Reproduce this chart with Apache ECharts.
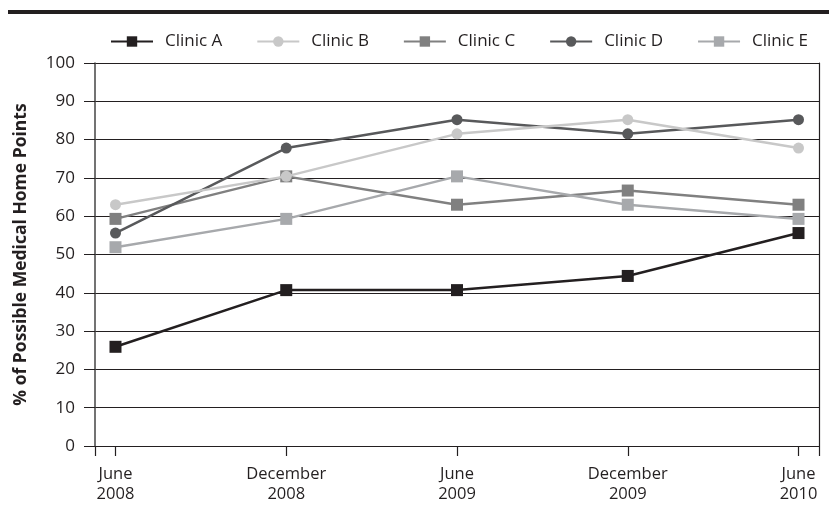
<!DOCTYPE html>
<html><head><meta charset="utf-8">
<script src="https://cdn.jsdelivr.net/npm/echarts@6/dist/echarts.min.js"></script>
<style>html,body{margin:0;padding:0;background:#fff}#c{width:829px;height:516px}</style>
</head><body><div id="c"></div>
<script>
const categories = ['June\n2008', 'December\n2008', 'June\n2009', 'December\n2009', 'June\n2010'];
const clinicA = [25.9, 40.7, 40.7, 44.4, 55.6];
const clinicB = [63.0, 70.4, 81.5, 85.2, 77.8];
const clinicC = [59.3, 70.4, 63.0, 66.7, 63.0];
const clinicD = [55.6, 77.8, 85.2, 81.5, 85.2];
const clinicE = [51.9, 59.3, 70.4, 63.0, 59.3];
const yTicks = [0, 10, 20, 30, 40, 50, 60, 70, 80, 90, 100];

const FONT = '"Open Sans", sans-serif';
const chart = echarts.init(document.getElementById('c'), null, {renderer: 'canvas'});

function mk(name, data, color, symbol, size, z) {
  return {
    name, type: 'line', data: data.map((v, i) => [i, v]),
    symbol, symbolSize: size, z: z,
    lineStyle: {color, width: 2.5},
    itemStyle: {color, borderWidth: 0},
    emphasis: {disabled: true}, animation: false
  };
}

chart.setOption({
  animation: false,
  graphic: [{type: 'rect', shape: {x: 8, y: 10, width: 821, height: 4}, style: {fill: '#231f20'}}],
  legend: {
    left: 110, top: 33, padding: 0, itemWidth: 42, itemHeight: 13, itemGap: 34,
    textStyle: {fontFamily: FONT, fontSize: 17, color: '#231f20', padding: [0, 0, 0, 7]},
    data: ['Clinic A', 'Clinic B', 'Clinic C', 'Clinic D', 'Clinic E']
  },
  grid: {left: 95, right: 10, top: 63, bottom: 70, containLabel: false},
  xAxis: {
    type: 'value', min: -0.12, max: 4.12,
    splitLine: {show: false},
    axisLine: {show: true, onZero: false, lineStyle: {color: '#231f20', width: 1}},
    axisTick: {show: true, length: 10, lineStyle: {color: '#231f20', width: 1.2}, customValues: [-0.12, 0, 1, 2, 3, 4, 4.12]},
    axisLabel: {
      customValues: [0, 1, 2, 3, 4], margin: 18,
      formatter: v => categories[Math.round(v)],
      fontFamily: FONT, fontSize: 16.5, color: '#231f20', lineHeight: 20
    }
  },
  yAxis: [{
    type: 'value', min: 0, max: 100, interval: 10,
    name: '% of Possible Medical Home Points', nameLocation: 'middle', nameGap: 65,
    nameTextStyle: {fontFamily: FONT, fontSize: 17.5, fontWeight: 'bold', color: '#231f20'},
    axisLine: {show: true, onZero: false, lineStyle: {color: '#444', width: 1.5}},
    axisTick: {show: true, length: 11, lineStyle: {color: '#231f20', width: 1}},
    splitLine: {show: true, lineStyle: {color: '#231f20', width: 1}},
    axisLabel: {margin: 20, fontFamily: FONT, fontSize: 17, color: '#231f20',
      formatter: v => yTicks.includes(v) ? String(v) : ''}
  }, {
    type: 'value', min: 0, max: 100, interval: 10, position: 'right',
    axisLine: {show: true, onZero: false, lineStyle: {color: '#231f20', width: 1.2}},
    axisTick: {show: false}, axisLabel: {show: false}, splitLine: {show: false}
  }],
  series: [
    mk('Clinic A', clinicA, '#231f20', 'rect', 12, 5),
    mk('Clinic B', clinicB, '#c8c8c8', 'circle', 11, 9),
    mk('Clinic C', clinicC, '#808080', 'rect', 12, 6),
    mk('Clinic D', clinicD, '#58595b', 'circle', 11, 7),
    mk('Clinic E', clinicE, '#a7a9ac', 'rect', 12, 8)
  ]
});
</script></body></html>
